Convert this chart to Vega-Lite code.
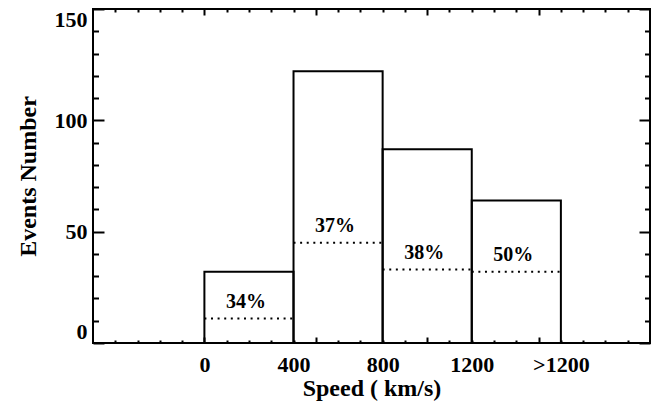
{
  "$schema": "https://vega.github.io/schema/vega-lite/v6.json",
  "width": 557,
  "height": 334,
  "autosize": "none",
  "padding": {"left": 93, "top": 9, "right": 7, "bottom": 64},
  "background": "white",
  "data": {
    "values": [
      {"lo": 0, "hi": 400, "mid": 200, "count": 32, "dot": 11, "pct": "34%"},
      {"lo": 400, "hi": 800, "mid": 600, "count": 122, "dot": 45, "pct": "37%"},
      {"lo": 800, "hi": 1200, "mid": 1000, "count": 87, "dot": 33, "pct": "38%"},
      {"lo": 1200, "hi": 1600, "mid": 1400, "count": 64, "dot": 32, "pct": "50%"}
    ]
  },
  "resolve": {"axis": {"x": "independent", "y": "independent"}},
  "layer": [
    {
      "mark": {"type": "rect", "fill": null, "fillOpacity": 0, "stroke": "black", "strokeWidth": 2},
      "encoding": {
        "x": {"field": "lo", "type": "quantitative", "scale": {"domain": [-500, 2000], "nice": false, "zero": false},
              "axis": {"orient": "bottom", "values": [0, 400, 800, 1200, 1600], "ticks": false, "format": "d",
                       "labelExpr": "datum.value == 1600 ? '>1200' : datum.label", "labelPadding": 11,
                       "title": "Speed ( km/s)", "titleBaseline": "alphabetic", "titleY": 52, "titleX": 278.5, "titleAlign": "center"}},
        "x2": {"field": "hi"},
        "y": {"field": "count", "type": "quantitative", "scale": {"domain": [0, 150], "nice": false, "zero": true},
              "axis": {"orient": "left", "values": [0, 50, 100, 150], "tickSize": -11, "labelPadding": 17, "format": "d",
                       "labelFlush": true, "labelFlushOffset": 0,
                       "title": "Events Number", "titleAngle": -90, "titleBaseline": "alphabetic", "titleAlign": "center", "titleX": -58, "titleY": 167}},
        "y2": {"datum": 0}
      }
    },
    {
      "mark": {"type": "rule", "stroke": "black", "strokeWidth": 2, "strokeDash": [2, 4.6]},
      "encoding": {
        "x": {"field": "lo", "type": "quantitative", "scale": {"domain": [-500, 2000], "nice": false, "zero": false},
              "axis": {"orient": "bottom", "values": [0, 500, 1000, 1500], "tickSize": -6, "labels": false, "title": null}},
        "x2": {"field": "hi"},
        "y": {"field": "dot", "type": "quantitative", "scale": {"domain": [0, 150], "nice": false, "zero": true},
              "axis": {"orient": "left", "values": [10, 20, 30, 40, 60, 70, 80, 90, 110, 120, 130, 140], "tickSize": -5.5, "labels": false, "title": null}}
      }
    },
    {
      "mark": {"type": "text", "font": "Liberation Serif", "fontWeight": "bold", "fontSize": 20, "color": "black", "baseline": "middle", "align": "center", "dx": -3, "dy": -17},
      "encoding": {
        "x": {"field": "mid", "type": "quantitative", "scale": {"domain": [-500, 2000], "nice": false, "zero": false},
              "axis": {"orient": "bottom", "values": [-400, -300, -200, -100, 100, 200, 300, 400, 600, 700, 800, 900, 1100, 1200, 1300, 1400, 1600, 1700, 1800, 1900], "tickSize": -3, "labels": false, "title": null}},
        "y": {"field": "dot", "type": "quantitative", "scale": {"domain": [0, 150], "nice": false, "zero": true},
              "axis": {"orient": "right", "values": [0, 50, 100, 150], "tickSize": -11, "labels": false, "title": null}},
        "text": {"field": "pct"}
      }
    },
    {
      "mark": {"type": "rect", "opacity": 0},
      "encoding": {
        "x": {"field": "lo", "type": "quantitative", "scale": {"domain": [-500, 2000], "nice": false, "zero": false},
              "axis": {"orient": "top", "values": [0, 500, 1000, 1500], "tickSize": -6, "labels": false, "title": null}},
        "x2": {"field": "hi"},
        "y": {"field": "count", "type": "quantitative", "scale": {"domain": [0, 150], "nice": false, "zero": true},
              "axis": {"orient": "right", "values": [10, 20, 30, 40, 60, 70, 80, 90, 110, 120, 130, 140], "tickSize": -5.5, "labels": false, "title": null}},
        "y2": {"datum": 0}
      }
    },
    {
      "mark": {"type": "rect", "opacity": 0},
      "encoding": {
        "x": {"field": "lo", "type": "quantitative", "scale": {"domain": [-500, 2000], "nice": false, "zero": false},
              "axis": {"orient": "top", "values": [-400, -300, -200, -100, 100, 200, 300, 400, 600, 700, 800, 900, 1100, 1200, 1300, 1400, 1600, 1700, 1800, 1900], "tickSize": -3, "labels": false, "title": null}},
        "x2": {"field": "hi"},
        "y": {"field": "count", "type": "quantitative", "scale": {"domain": [0, 150], "nice": false, "zero": true}, "axis": null},
        "y2": {"datum": 0}
      }
    }
  ],
  "config": {
    "view": {"stroke": "black", "strokeWidth": 2},
    "axis": {
      "domain": false, "grid": false,
      "tickColor": "black", "tickWidth": 2,
      "labelFont": "Liberation Serif", "labelFontWeight": "bold", "labelFontSize": 22, "labelColor": "black",
      "titleFont": "Liberation Serif", "titleFontWeight": "bold", "titleFontSize": 24, "titleColor": "black"
    }
  }
}
